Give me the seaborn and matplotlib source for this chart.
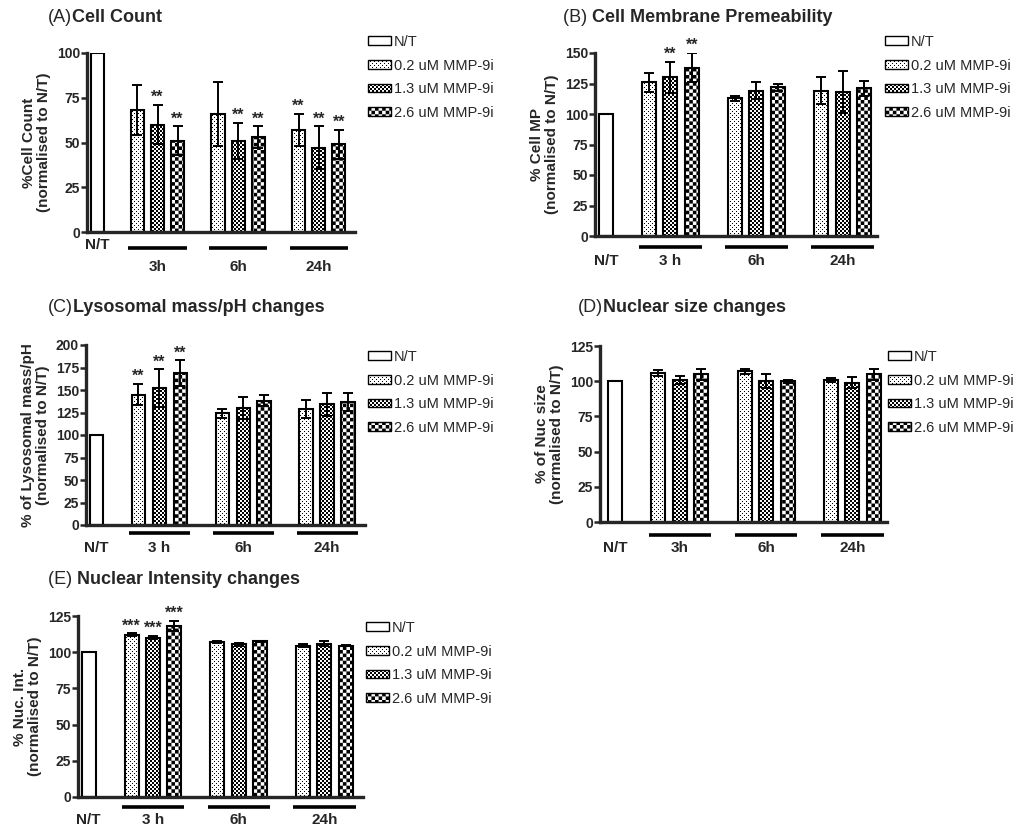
import warnings
import numpy as np
import pandas as pd
import seaborn as sns
import matplotlib.pyplot as plt
import matplotlib.hatch as mhatch
from matplotlib.path import Path
from matplotlib.patches import Patch
from matplotlib.transforms import blended_transform_factory, offset_copy

warnings.filterwarnings('ignore')

# Data
DOSES = ['0.2 uM MMP-9i', '1.3 uM MMP-9i', '2.6 uM MMP-9i']
LEGEND_LABELS = ['N/T'] + DOSES

# (A) cell count, rows = 3h, 6h, 24h; cols = doses
count_mean = [[68, 60, 51], [66, 51, 53], [57, 47, 49]]
count_err = [[14, 11, 8], [18, 10, 6], [9, 12, 8]]
count_stars = [['', '**', '**'], ['', '**', '**'], ['**', '**', '**']]
count_groups = ['3h', '6h', '24h']

# (B) cell membrane permeability
mp_mean = [[126, 130, 138], [113, 119, 122], [119, 118, 121]]
mp_err = [[8, 13, 12], [2, 7, 3], [11, 17, 6]]
mp_stars = [['', '**', '**'], ['', '', ''], ['', '', '']]
mp_groups = ['3 h', '6h', '24h']

# (C) lysosomal mass/pH
lyso_mean = [[145, 152, 169], [124, 130, 138], [129, 134, 137]]
lyso_err = [[12, 21, 14], [5, 12, 6], [10, 13, 10]]
lyso_stars = [['**', '**', '**'], ['', '', ''], ['', '', '']]
lyso_groups = ['3 h', '6h', '24h']

# (D) nuclear size
nuc_mean = [[106, 101, 105], [107, 100, 100], [101, 99, 105]]
nuc_err = [[2, 3, 4], [2, 5, 1], [1.5, 4, 4]]
nuc_stars = [['', '', ''], ['', '', ''], ['', '', '']]
nuc_groups = ['3h', '6h', '24h']

# (E) nuclear intensity
int_mean = [[112, 110, 118], [107, 105.5, 107.5], [104.5, 106, 104.5]]
int_err = [[1, 1, 3.5], [0.5, 1, 0.5], [1, 1.5, 0.5]]
int_stars = [['***', '***', '***'], ['', '', ''], ['', '', '']]
int_groups = ['3 h', '6h', '24h']

NT_VALUE = 100


# custom fill patterns (dots / fine checker / coarse checker)
class SquareHatch(mhatch.HatchPatternBase):
    key = None
    cells = 28

    def keep(self, i, j):
        return (i + j) % 2 == 0

    def __init__(self, hatch, density):
        n = self.cells
        if hatch is not None and self.key in hatch:
            self.squares = [(i, j) for i in range(n) for j in range(n) if self.keep(i, j)]
        else:
            self.squares = []
        self.num_vertices = len(self.squares) * 5

    def set_vertices_and_codes(self, vertices, codes):
        s = 1.0 / self.cells
        k = 0
        for i, j in self.squares:
            x0, y0 = i * s, j * s
            vertices[k:k + 5] = [(x0, y0), (x0 + s, y0), (x0 + s, y0 + s), (x0, y0 + s), (x0, y0)]
            codes[k:k + 5] = [Path.MOVETO, Path.LINETO, Path.LINETO, Path.LINETO, Path.CLOSEPOLY]
            k += 5


class CoarseChecker(SquareHatch):
    key = 'c'
    cells = 28


class FineChecker(SquareHatch):
    key = 'f'
    cells = 50


class Stipple(SquareHatch):
    key = 's'
    cells = 100

    def keep(self, i, j):
        return j % 2 == 0 and i % 4 == j % 4


mhatch._hatch_types.extend([CoarseChecker, FineChecker, Stipple])

HATCHES = {'N/T': None, DOSES[0]: 's', DOSES[1]: 'f', DOSES[2]: 'c'}

sns.set_style('ticks')
plt.rcParams['font.family'] = ['Liberation Sans', 'DejaVu Sans']
plt.rcParams['hatch.linewidth'] = 0.01

W, H = 1024, 834
fig = plt.figure(figsize=(W / 100, H / 100), dpi=100)


def px_axes(left, top, right, bottom):
    return fig.add_axes([left / W, 1 - bottom / H, (right - left) / W, (bottom - top) / H])


def draw_panel(rect, letter, title, title_xy, ylabel, means, errs, stars, groups,
               ymax, leg_xy, line_off, lab_off, nt_off, xlim=(-0.5, 12.8)):
    ax = px_axes(*rect)
    pos, vals, cond = [0], [NT_VALUE], ['N/T']
    err_list = []
    star_list = []
    for g in range(3):
        for d in range(3):
            pos.append(2 + 4 * g + d)
            vals.append(means[g][d])
            cond.append(DOSES[d])
            err_list.append(errs[g][d])
            star_list.append(stars[g][d])
    df = pd.DataFrame({'pos': pos, 'value': vals, 'condition': cond})

    sns.barplot(data=df, x='pos', y='value', native_scale=True, width=0.65,
                color='white', edgecolor='black', linewidth=1.5, errorbar=None, ax=ax)
    for patch, c in zip(ax.patches, df['condition']):
        patch.set_facecolor('white')
        patch.set_hatch(HATCHES[c])

    sub = df.iloc[1:]
    ax.errorbar(sub['pos'], sub['value'], yerr=err_list, fmt='none', ecolor='black',
                elinewidth=1.4, capsize=3.6, capthick=1.4, zorder=5)
    for x, v, e, s in zip(sub['pos'], sub['value'], err_list, star_list):
        if s:
            ax.annotate(s, (x, v + e), xytext=(0, 0), textcoords='offset points',
                        ha='center', va='bottom', fontsize=11.5, fontweight='bold')

    ax.set_xlim(*xlim)
    ax.set_ylim(0, ymax)
    ax.set_yticks(np.arange(0, ymax + 1, 25))
    ax.set_xticks([])
    ax.set_xlabel('')
    ax.set_ylabel(ylabel, fontsize=11, fontweight='bold', labelpad=4, linespacing=1.1)
    for lab in ax.get_yticklabels():
        lab.set_fontweight('bold')
    ax.tick_params(axis='y', labelsize=10, width=1.8, length=4, pad=1, direction='out')
    sns.despine(ax=ax)
    ax.spines['left'].set_linewidth(2.4)
    ax.spines['bottom'].set_linewidth(2.4)

    # group underlines and labels under the axis
    tr = blended_transform_factory(ax.transData, ax.transAxes)
    line_tr = offset_copy(tr, fig=fig, y=-line_off * 0.72, units='points')
    for g, name in enumerate(groups):
        x0 = 2 + 4 * g - 0.45
        x1 = 2 + 4 * g + 2.45
        ax.plot([x0, x1], [0, 0], color='black', lw=2.6, transform=line_tr, clip_on=False,
                solid_capstyle='butt')
        ax.annotate(name, (2 + 4 * g + 1, 0), xycoords=tr, xytext=(0, -lab_off * 0.72),
                    textcoords='offset points', ha='center', va='center',
                    fontsize=11, fontweight='bold')
    ax.annotate('N/T', (0, 0), xycoords=tr, xytext=(0, -nt_off * 0.72),
                textcoords='offset points', ha='center', va='center',
                fontsize=11, fontweight='bold')

    handles = [Patch(facecolor='white', edgecolor='black', linewidth=1.0, hatch=HATCHES[c])
               for c in LEGEND_LABELS]
    ax.legend(handles, LEGEND_LABELS, loc='upper left',
              bbox_to_anchor=(leg_xy[0] / W, 1 - leg_xy[1] / H), bbox_transform=fig.transFigure,
              frameon=False, fontsize=10.5, handlelength=1.6, handleheight=0.55,
              labelspacing=0.66, handletextpad=0.15, borderpad=0, borderaxespad=0)

    t1 = fig.text(title_xy[0] / W, 1 - title_xy[1] / H, letter, fontsize=13, va='center')
    ax.annotate(title, xy=(1, 0.5), xycoords=t1, va='center', ha='left',
                fontsize=13, fontweight='bold', annotation_clip=False)
    return ax


draw_panel((87, 53, 355, 232), '(A)', 'Cell Count', (48, 18),
           '%Cell Count\n(normalised to N/T)', count_mean, count_err, count_stars,
           count_groups, 100, (368, 35), 16, 35, 13)
draw_panel((595, 53, 877, 236), '(B) ', 'Cell Membrane Premeability', (563, 17),
           '% Cell MP\n(normalised to N/T)', mp_mean, mp_err, mp_stars,
           mp_groups, 150, (885, 35), 11, 25, 25, xlim=(-0.5, 12.6))
draw_panel((86, 345, 365, 525), '(C)', 'Lysosomal mass/pH changes', (48, 308),
           '% of Lysosomal mass/pH\n(normalised to N/T)', lyso_mean, lyso_err, lyso_stars,
           lyso_groups, 200, (368, 350), 8, 23, 23)
draw_panel((600, 346, 887, 522), '(D)', 'Nuclear size changes', (578, 308),
           '% of Nuc size\n(normalised to N/T)', nuc_mean, nuc_err, nuc_stars,
           nuc_groups, 125, (888, 350), 13, 26, 26, xlim=(-0.7, 12.6))
draw_panel((78, 616, 363, 797), '(E) ', 'Nuclear Intensity changes', (48, 580),
           '% Nuc. Int.\n(normalised to N/T)', int_mean, int_err, int_stars,
           int_groups, 125, (366, 621), 10, 23, 23)

fig.savefig('out.png', dpi=100)
